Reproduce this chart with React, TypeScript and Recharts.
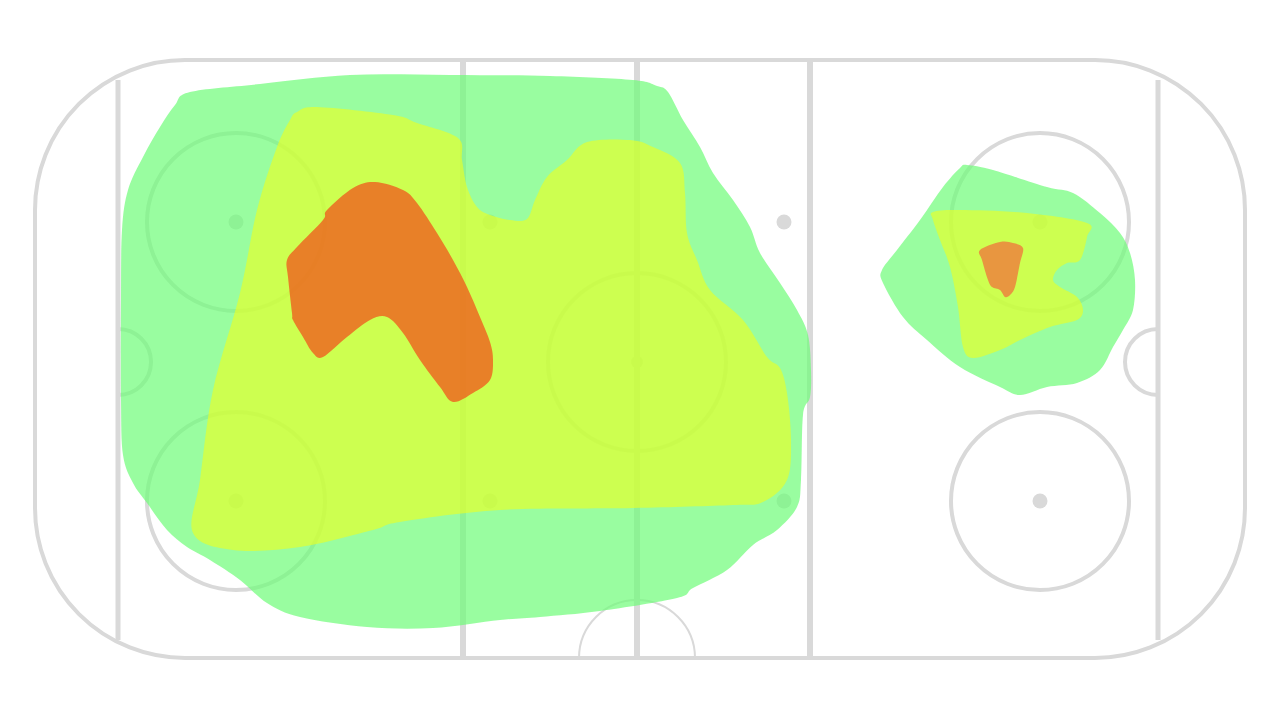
import { ComposedChart, XAxis, YAxis, Scatter, ReferenceLine, ReferenceDot, ReferenceArea } from "recharts";

// rink drawn in screen-like units: x 0..1280, y 0..720 (top to bottom)
const RINK = { x1: 35, x2: 1245, y1: 60, y2: 658 };
const goalLines = [118, 1158];
const zoneLines = [463, 637, 810];
const faceoffCircles = [
	{ x: 236, y: 222 },
	{ x: 236, y: 501 },
	{ x: 1040, y: 222 },
	{ x: 1040, y: 501 },
	{ x: 637, y: 362 },
];
const faceoffDots = [
	{ x: 236, y: 222 },
	{ x: 236, y: 501 },
	{ x: 1040, y: 222 },
	{ x: 1040, y: 501 },
	{ x: 490, y: 222 },
	{ x: 490, y: 501 },
	{ x: 784, y: 222 },
	{ x: 784, y: 501 },
];

// heat contours (outer -> inner)
const greenLeft = [
	[190, 92], [260, 84], [350, 75], [450, 75], [550, 76], [633, 80], [657, 86], [668, 92],
	[683, 120], [700, 147], [713, 173], [733, 200], [750, 227], [760, 253], [780, 283],
	[797, 310], [808, 335], [811, 370], [810, 397], [803, 415], [801, 480], [797, 507],
	[777, 530], [753, 545], [727, 570], [693, 588], [677, 598], [600, 611], [540, 617],
	[500, 620], [433, 628], [367, 627], [300, 617], [267, 603], [240, 580], [210, 560],
	[187, 547], [167, 530], [147, 503], [133, 483], [123, 455], [121, 400], [121, 300],
	[122, 230], [128, 190], [143, 157], [160, 127], [175, 105],
];
const yellowLeft = [
	[297, 112], [317, 107], [393, 115], [417, 123], [458, 138], [462, 160], [467, 187],
	[477, 207], [490, 215], [510, 220], [527, 219], [535, 200], [547, 177], [567, 160],
	[587, 142], [630, 140], [653, 147], [680, 163], [685, 193], [687, 233], [697, 260],
	[710, 290], [743, 320], [767, 357], [780, 368], [787, 393], [791, 440], [787, 480],
	[763, 502], [733, 505], [633, 508], [500, 510], [400, 522], [373, 530], [300, 547],
	[233, 550], [193, 533], [200, 480], [213, 390], [240, 293], [257, 210], [277, 147],
	[290, 120],
];
const orangeLeft = [
	[375, 182], [403, 190], [417, 203], [437, 233], [453, 260], [467, 287], [480, 317],
	[490, 342], [493, 360], [490, 380], [473, 393], [453, 402], [440, 387], [420, 360],
	[403, 333], [387, 317], [370, 320], [347, 337], [323, 357], [313, 353], [303, 337],
	[293, 320], [292, 313], [288, 277], [287, 260], [297, 247], [323, 220], [327, 210],
	[353, 188],
];
const greenRight = [
	[967, 165], [993, 170], [1047, 187], [1073, 193], [1100, 213], [1120, 233], [1130, 253],
	[1135, 280], [1133, 310], [1123, 330], [1113, 347], [1100, 370], [1077, 383], [1047, 387],
	[1020, 395], [1000, 387], [960, 367], [927, 340], [903, 317], [883, 283], [882, 270],
	[897, 250], [920, 220], [943, 187], [960, 168],
];
const yellowRight = [
	[933, 212], [960, 210], [1027, 213], [1087, 223], [1087, 237], [1080, 260], [1067, 263],
	[1057, 270], [1053, 280], [1060, 287], [1077, 297], [1083, 310], [1077, 320], [1050, 327],
	[1020, 340], [1000, 350], [973, 358], [963, 347], [958, 307], [950, 267], [940, 240],
	[933, 220],
];
const orangeRight = [
	[980, 250], [1000, 242], [1013, 243], [1023, 248], [1020, 263], [1015, 287], [1010, 295],
	[1005, 297], [1000, 290], [992, 287], [988, 280], [982, 260],
];

const LINE = "#d9d9d9";

const toPts = (arr: number[][]) => arr.map(([x, y]) => ({ x, y }));

// closed catmull-rom through the projected points
const polygon = (fill: string, opacity: number) => (p: any) => {
	const pts = p.points || [];
	const n = pts.length;
	if (!n) return <g />;
	let d = `M${pts[0].x},${pts[0].y}`;
	for (let i = 0; i < n; i++) {
		const p0 = pts[(i - 1 + n) % n];
		const p1 = pts[i];
		const p2 = pts[(i + 1) % n];
		const p3 = pts[(i + 2) % n];
		const c1x = p1.x + (p2.x - p0.x) / 6;
		const c1y = p1.y + (p2.y - p0.y) / 6;
		const c2x = p2.x - (p3.x - p1.x) / 6;
		const c2y = p2.y - (p3.y - p1.y) / 6;
		d += ` C${c1x},${c1y} ${c2x},${c2y} ${p2.x},${p2.y}`;
	}
	return <path d={d + " Z"} fill={fill} fillOpacity={opacity} stroke="none" />;
};

const halfCircle = (side: "left" | "right" | "up", width: number) => (p: any) => {
	const { cx, cy, r } = p;
	let d = "";
	if (side === "right") d = `M${cx},${cy - r} A${r},${r} 0 0 1 ${cx},${cy + r}`;
	if (side === "left") d = `M${cx},${cy - r} A${r},${r} 0 0 0 ${cx},${cy + r}`;
	if (side === "up") d = `M${cx - r},${cy} A${r},${r} 0 0 1 ${cx + r},${cy}`;
	return <path d={d} fill="none" stroke={LINE} strokeWidth={width} />;
};

const heat = [
	{ name: "greenLeft", pts: greenLeft, fill: "#6dfc77", op: 0.7 },
	{ name: "greenRight", pts: greenRight, fill: "#6dfc77", op: 0.7 },
	{ name: "yellowLeft", pts: yellowLeft, fill: "#e2ff2e", op: 0.7 },
	{ name: "yellowRight", pts: yellowRight, fill: "#e2ff2e", op: 0.7 },
	{ name: "orangeLeft", pts: orangeLeft, fill: "#f44a17", op: 0.7 },
	{ name: "orangeRight", pts: orangeRight, fill: "#f46939", op: 0.7 },
];

export default function App() {
	return (
		<div style={{ position: "absolute", left: 0, top: 0, background: "#fff" }}>
			<ComposedChart width={1280} height={720} margin={{ top: 0, right: 0, bottom: 0, left: 0 }}>
				<XAxis type="number" dataKey="x" domain={[0, 1280]} hide allowDataOverflow />
				<YAxis type="number" dataKey="y" domain={[0, 720]} reversed hide allowDataOverflow />

				<ReferenceArea
					x1={RINK.x1}
					x2={RINK.x2}
					y1={RINK.y1}
					y2={RINK.y2}
					zIndex={0}
					shape={(p: any) => (
						<rect x={p.x} y={p.y} width={p.width} height={p.height} rx={150} ry={150} fill="#fff" stroke={LINE} strokeWidth={4} />
					)}
				/>
				{goalLines.map((x) => (
					<ReferenceLine key={"g" + x} zIndex={1} segment={[{ x, y: 80 }, { x, y: 640 }]} stroke={LINE} strokeWidth={5} />
				))}
				{zoneLines.map((x) => (
					<ReferenceLine key={"z" + x} zIndex={1} segment={[{ x, y: RINK.y1 }, { x, y: RINK.y2 }]} stroke={LINE} strokeWidth={6} />
				))}
				{faceoffCircles.map((c, i) => (
					<ReferenceDot key={"c" + i} zIndex={1} x={c.x} y={c.y} r={89} fill="none" stroke={LINE} strokeWidth={4} />
				))}
				{faceoffDots.map((c, i) => (
					<ReferenceDot key={"d" + i} zIndex={1} x={c.x} y={c.y} r={7.5} fill={LINE} stroke="none" />
				))}
				<ReferenceDot zIndex={1} x={637} y={362} r={6} fill={LINE} stroke="none" />
				<ReferenceDot zIndex={1} x={goalLines[0]} y={362} r={33} shape={halfCircle("right", 4)} />
				<ReferenceDot zIndex={1} x={goalLines[1]} y={362} r={33} shape={halfCircle("left", 4)} />
				<ReferenceDot zIndex={1} x={637} y={RINK.y2} r={58} shape={halfCircle("up", 2)} />

				{heat.map((h) => (
					<Scatter
						key={h.name}
						name={h.name}
						data={toPts(h.pts)}
						fill={h.fill}
						zIndex={700}
						line={polygon(h.fill, h.op)}
						lineType="joint"
						shape={() => <g />}
						isAnimationActive={false}
					/>
				))}
			</ComposedChart>
		</div>
	);
}
